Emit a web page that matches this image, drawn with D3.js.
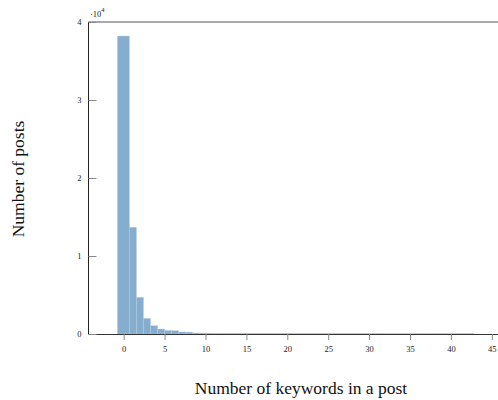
<!DOCTYPE html>
<html>
<head>
<meta charset="utf-8">
<script src="https://cdn.jsdelivr.net/npm/d3@7"></script>
<style>
  html, body { margin: 0; padding: 0; background: #fff; }
  svg { display: block; }
</style>
</head>
<body>
<svg id="chart" width="498" height="400"></svg>
<script>
// Histogram bin edges (number of keywords) and counts (number of posts)
const binEdges = [-0.76, 0.70, 1.56, 2.42, 3.28, 4.14, 5.00, 5.85, 6.71, 7.57, 8.43,
  9.29, 10.15, 11.01, 11.87, 12.73, 13.59, 14.44, 15.30, 16.16, 17.02,
  17.88, 18.74, 19.60, 20.46, 21.32, 22.18, 23.03, 23.89, 24.75, 25.61,
  26.47, 27.33, 28.19, 29.05, 29.91, 30.77, 31.62, 32.48, 33.34, 34.20,
  35.06, 35.92, 36.78, 37.64, 38.50, 39.36, 40.21, 41.07, 41.93, 42.79];
const counts = [38200, 13680, 4700, 2000, 1060, 640, 450, 420, 260, 240,
  130, 120, 110, 105, 100, 100, 95, 95, 90, 90,
  90, 85, 85, 85, 80, 80, 80, 80, 75, 75,
  75, 75, 70, 70, 70, 70, 70, 65, 65, 65,
  65, 65, 60, 60, 60, 60, 60, 60, 60, 60];
const xTicks = [0, 5, 10, 15, 20, 25, 30, 35, 40, 45];
const yTicks = [0, 10000, 20000, 30000, 40000];
const xTitle = "Number of keywords in a post";
const yTitle = "Number of posts";

const bins = counts.map((c, i) => ({ x0: binEdges[i], x1: binEdges[i + 1], n: c }));

const svg = d3.select("#chart");
const L = 88.5, T = 22, B = 334, R = 500;
const x = d3.scaleLinear().domain([-4.3, 46]).range([L, R]);
const y = d3.scaleLinear().domain([0, 40000]).range([B, T]);

const tickFont = "'Liberation Serif', 'DejaVu Serif', serif";

// top spine
svg.append("line").attr("x1", L).attr("x2", R).attr("y1", T).attr("y2", T)
  .attr("stroke", "#555").attr("stroke-width", 1);

// bars
svg.append("g").selectAll("rect").data(bins).join("rect")
  .attr("x", d => x(d.x0))
  .attr("width", d => x(d.x1) - x(d.x0))
  .attr("y", d => y(d.n))
  .attr("height", d => y(0) - y(d.n))
  .attr("fill", "#86acce")
  .attr("stroke", "#b3cce0")
  .attr("stroke-width", 0.4);

// x axis
const xAxis = d3.axisBottom(x).tickValues(xTicks).tickSize(6).tickPadding(6)
  .tickFormat(d3.format("d"));
const gx = svg.append("g").attr("transform", `translate(0,${B})`).call(xAxis);
gx.select(".domain").attr("stroke", "#333").attr("d", `M${L},0.5H${R}`);
gx.selectAll(".tick line").attr("stroke", "#888");
gx.selectAll(".tick text").attr("font-family", tickFont).attr("font-size", 8.5).attr("fill", "#222");

// y axis (ticks inward)
const yAxis = d3.axisLeft(y).tickValues(yTicks).tickSize(-8).tickPadding(7)
  .tickFormat(d => d / 10000);
const gy = svg.append("g").attr("transform", `translate(${L},0)`).call(yAxis);
gy.select(".domain").attr("stroke", "#222").attr("d", `M0,${T}V${B}`);
gy.selectAll(".tick line").attr("stroke", "#888");
gy.selectAll(".tick text").attr("font-family", tickFont).attr("font-size", 8.5).attr("fill", "#222");

// exponent label
const ex = svg.append("text").attr("x", 90).attr("y", 17)
  .attr("font-family", tickFont).attr("font-size", 8.5).attr("fill", "#222");
ex.append("tspan").text("·10");
ex.append("tspan").attr("dy", -5).attr("font-size", 6.5).text("4");

// axis titles
svg.append("text").attr("x", 301).attr("y", 394).attr("text-anchor", "middle")
  .attr("font-family", "'Liberation Serif', serif").attr("font-size", 17.5)
  .attr("fill", "#111").text(xTitle);
svg.append("text").attr("transform", "translate(24,179) rotate(-90)")
  .attr("text-anchor", "middle")
  .attr("font-family", "'Liberation Serif', serif").attr("font-size", 17.5)
  .attr("fill", "#111").text(yTitle);
</script>
</body>
</html>
